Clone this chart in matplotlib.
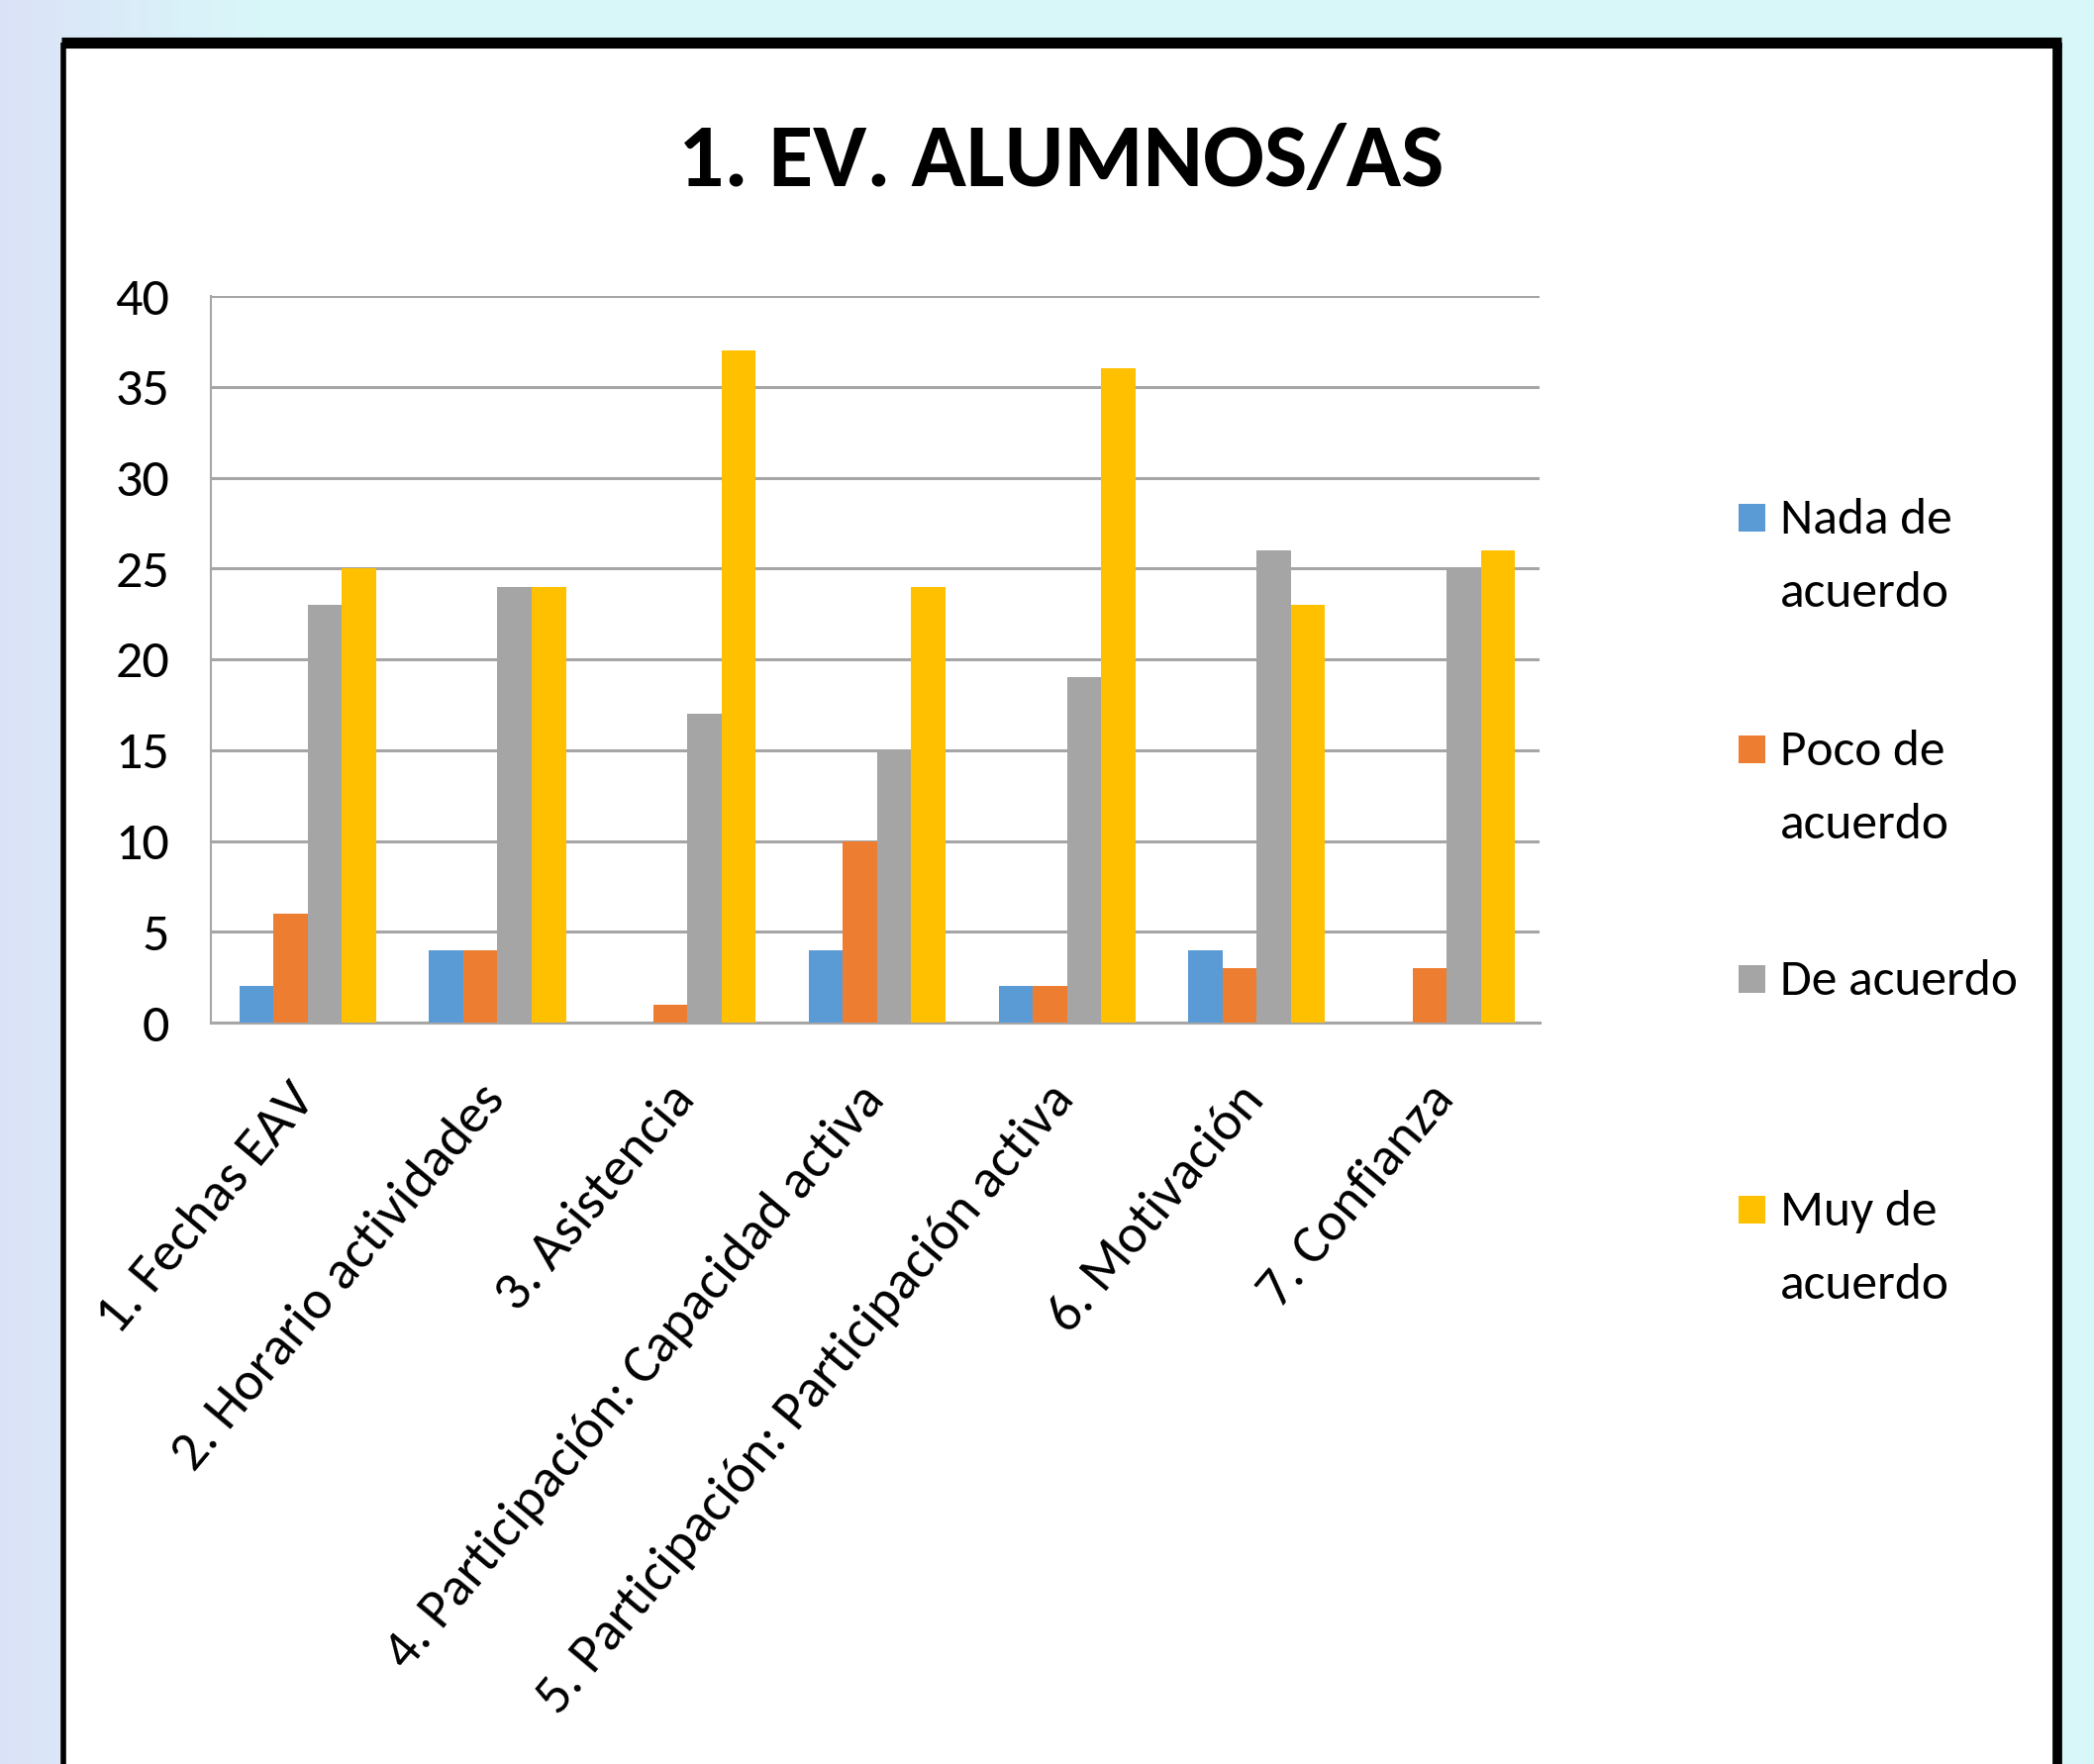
import numpy as np
import matplotlib
matplotlib.use("Agg")
import matplotlib.pyplot as plt
from matplotlib.patches import Rectangle

# chart data
categories = [
    "1. Fechas EAV",
    "2. Horario actividades",
    "3. Asistencia",
    "4. Participación: Capacidad activa",
    "5. Participación: Participación activa",
    "6. Motivación",
    "7. Confianza",
]
series_names = ["Nada de\nacuerdo", "Poco de\nacuerdo", "De acuerdo", "Muy de\nacuerdo"]
nada = [2, 4, 0, 4, 2, 4, 0]
poco = [6, 4, 1, 10, 2, 3, 3]
de_acuerdo = [23, 24, 17, 15, 19, 26, 25]
muy = [25, 24, 37, 24, 36, 23, 26]
colors = ["#5B9BD5", "#ED7D31", "#A5A5A5", "#FFC000"]
y_ticks = [0, 5, 10, 15, 20, 25, 30, 35, 40]
title = "1. EV. ALUMNOS/AS"

# Carlito has the same metrics as Calibri, used in the original
plt.rcParams["font.family"] = ["Carlito", "DejaVu Sans"]

W, H = 2115, 1782
fig = plt.figure(figsize=(W / 100, H / 100), dpi=100)

# light cyan slide background with a soft lavender edge on the left
bg = fig.add_axes([0, 0, 1, 1], zorder=-10)
grad = np.linspace(0, 1, 256)
left_col = np.array([0.86, 0.89, 0.97])
right_col = np.array([0.85, 0.97, 0.98])
mix = np.clip(grad * 8, 0, 1)[None, :, None]
img = left_col * (1 - mix) + right_col * mix
bg.imshow(np.repeat(img, 4, axis=0), aspect="auto", extent=[0, 1, 0, 1])
bg.set_axis_off()

# white chart frame, open at the bottom
fx0, fx1 = 64 / W, 2078 / W
ftop = 1 - 43 / H
fig.patches.append(Rectangle((fx0, 0), fx1 - fx0, ftop, transform=fig.transFigure,
                             facecolor="white", edgecolor="none", zorder=-5))
fig.add_artist(plt.Line2D([fx0 - 0.001, fx1 + 0.002], [ftop, ftop], transform=fig.transFigure,
                          color="black", lw=8, solid_capstyle="butt"))
fig.add_artist(plt.Line2D([fx0, fx0], [0, ftop], transform=fig.transFigure,
                          color="black", lw=4, solid_capstyle="butt"))
fig.add_artist(plt.Line2D([fx1, fx1], [0, ftop], transform=fig.transFigure,
                          color="black", lw=7, solid_capstyle="butt"))

ax = fig.add_axes([213 / W, 1 - 1033 / H, (1555 - 213) / W, (1033 - 299) / H])
ax.set_facecolor("none")

x = np.arange(len(categories))
width = 0.18
all_series = [nada, poco, de_acuerdo, muy]
for i, (vals, col) in enumerate(zip(all_series, colors)):
    ax.bar(x + (i - 1.5) * width + 0.01, vals, width, color=col, zorder=3)

ax.set_xlim(-0.5, len(categories) - 0.5)
ax.set_ylim(0, 40)
ax.set_yticks(y_ticks)
ax.yaxis.grid(True, color="#A6A6A6", lw=2.2, zorder=0)
ax.set_axisbelow(True)
for s in ["top", "right"]:
    ax.spines[s].set_visible(False)
ax.spines["left"].set_color("#A6A6A6")
ax.spines["left"].set_linewidth(1.5)
ax.spines["bottom"].set_color("#A6A6A6")
ax.spines["bottom"].set_linewidth(2.2)
ax.tick_params(axis="y", length=0, pad=30, labelsize=39)
ax.tick_params(axis="x", length=0, pad=50, labelsize=40)
ax.set_xticks(x)
ax.set_xticklabels(categories, rotation=50, ha="right", va="center", rotation_mode="anchor")

fig.text(1072 / W, 1 - 164 / H, title, ha="center", va="center",
         fontsize=66, fontweight="bold")

# legend drawn as in the original: marker aligned with the first line of each label
legend_y = [523, 757, 989, 1222]
for name, col, yy in zip(series_names, colors, legend_y):
    fig.patches.append(Rectangle((1756 / W, 1 - (yy + 14) / H), 27 / W, 28 / H,
                                 transform=fig.transFigure, facecolor=col, edgecolor="none"))
    fig.text(1798 / W, 1 - (yy - 20) / H, name, ha="left", va="top",
             fontsize=37, linespacing=1.83)

fig.savefig("out.png", dpi=100)
